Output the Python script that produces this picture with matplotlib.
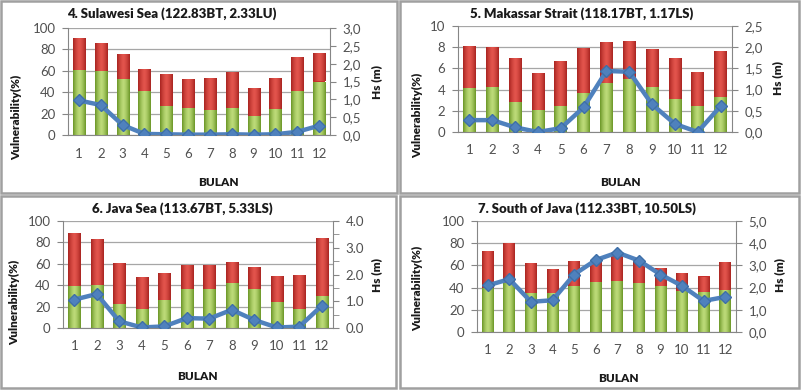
import matplotlib.pyplot as plt
import numpy as np
from matplotlib.patches import Rectangle
from matplotlib.colors import LinearSegmentedColormap
from matplotlib.ticker import FuncFormatter, MultipleLocator

plt.rcParams['font.family'] = ['Lato', 'DejaVu Sans']

W, H = 801, 390

months = [1, 2, 3, 4, 5, 6, 7, 8, 9, 10, 11, 12]

# 4. Sulawesi Sea
sulawesi_green = [61, 60, 52, 41, 27, 25, 23, 25, 18, 24, 41, 50]
sulawesi_red = [30, 26, 24, 21, 30, 27, 30, 34, 26, 29, 32, 27]
sulawesi_hs = [0.97, 0.84, 0.28, 0.03, 0.02, 0.01, 0.01, 0.02, 0.01, 0.02, 0.09, 0.26]

# 5. Makassar Strait
makassar_green = [4.15, 4.2, 2.85, 2.1, 2.45, 3.65, 4.6, 5.0, 4.2, 3.1, 2.45, 3.3]
makassar_red = [4.0, 3.85, 4.1, 3.5, 4.25, 4.3, 3.85, 3.55, 3.6, 3.9, 3.25, 4.3]
makassar_hs = [0.28, 0.28, 0.11, 0.0, 0.09, 0.58, 1.44, 1.42, 0.65, 0.19, 0.0, 0.61]

# 6. Java Sea
javasea_green = [39, 40, 22, 18, 26, 36, 36, 42, 36, 24, 18, 30]
javasea_red = [50, 43, 39, 30, 25, 23, 23, 20, 21, 25, 32, 54]
javasea_hs = [1.06, 1.27, 0.25, 0.02, 0.06, 0.37, 0.35, 0.68, 0.3, 0.02, 0.05, 0.83]

# 7. South of Java
southjava_green = [40, 44, 35, 35, 41, 45, 46, 44, 41, 37, 36, 38]
southjava_red = [33, 36, 27, 22, 23, 20, 25, 21, 17, 16, 14, 25]
southjava_hs = [2.1, 2.38, 1.36, 1.43, 2.59, 3.24, 3.58, 3.22, 2.59, 2.08, 1.4, 1.58]

titles = ['4. Sulawesi Sea (122.83BT, 2.33LU)', '5. Makassar Strait (118.17BT, 1.17LS)',
          '6. Java Sea (113.67BT, 5.33LS)', '7. South of Java (112.33BT, 10.50LS)']

fig = plt.figure(figsize=(W / 100, H / 100), dpi=100)


def px_axes(left, top, right, bottom):
    return fig.add_axes([left / W, 1 - bottom / H, (right - left) / W, (bottom - top) / H])


def px_text(x, y, s, **kw):
    fig.text(x / W, 1 - y / H, s, ha='center', va='center', **kw)


def shade(ax, patches, dark, light):
    # cylinder-ish shading like the excel bars
    grad = np.abs(np.linspace(-1, 1, 64))[None, :] ** 1.5
    cmap = LinearSegmentedColormap.from_list('c', [light, dark])
    for p in patches:
        x0, y0 = p.get_x(), p.get_y()
        w, h = p.get_width(), p.get_height()
        if h <= 0:
            continue
        im = ax.imshow(grad, cmap=cmap, aspect='auto', extent=(x0, x0 + w, y0, y0 + h),
                       zorder=2, interpolation='bilinear')
        im.set_clip_path(p)


def panel(box, green, red, hs, ylim, ystep, hlim, hstep, hminor, comma, title, frame, lab):
    ax = px_axes(*box)
    ax.set_xlim(0.5, 12.5)
    ax.set_ylim(0, ylim)
    gb = ax.bar(months, green, width=0.55, color='#93BE45', zorder=2)
    rb = ax.bar(months, red, bottom=green, width=0.55, color='#C8302C', zorder=2)
    shade(ax, gb, '#6A9626', '#BCDA78')
    shade(ax, rb, '#A82420', '#E2544C')
    ax.yaxis.set_major_locator(MultipleLocator(ystep))
    ax.grid(axis='y', color='#A6A6A6', linewidth=0.9, zorder=0)
    ax.set_axisbelow(True)
    ax.set_xticks(months)
    ax.tick_params(axis='x', length=0, labelsize=9.5, colors='#505050', pad=9)
    ax.tick_params(axis='y', length=4, labelsize=9.5, colors='#505050', pad=5)
    ax.tick_params(axis='y', color='#868686')
    for s in ['top', 'right']:
        ax.spines[s].set_visible(False)
    ax.spines['left'].set_color('#868686')
    ax.spines['bottom'].set_color('#868686')

    ax2 = ax.twinx()
    ax2.set_ylim(0, hlim)
    ax2.plot(months, hs, color='#4F81BD', linewidth=3.2, marker='D', markersize=6.5,
             markerfacecolor='#4F81BD', markeredgecolor='#3E6FA8', zorder=5)
    ax2.yaxis.set_major_locator(MultipleLocator(hstep))
    if hminor:
        ax2.yaxis.set_minor_locator(MultipleLocator(hminor))
        ax2.tick_params(axis='y', which='minor', length=4, color='#868686')
    if comma:
        ax2.yaxis.set_major_formatter(FuncFormatter(lambda v, p: ('%.1f' % v).replace('.', ',')))
    else:
        ax2.yaxis.set_major_formatter(FuncFormatter(lambda v, p: '%.1f' % v))
    ax2.tick_params(axis='y', length=4, labelsize=9.5, colors='#505050', color='#868686', pad=5)
    for s in ['top', 'left', 'bottom']:
        ax2.spines[s].set_visible(False)
    ax2.spines['right'].set_color('#868686')

    # panel frame
    fx0, fy0, fx1, fy1 = frame
    fig.patches.append(Rectangle((fx0 / W, 1 - fy1 / H), (fx1 - fx0) / W, (fy1 - fy0) / H,
                                 transform=fig.transFigure, fill=False, edgecolor='#A0A0A0',
                                 linewidth=1.8))
    tx, ty, vx, vy, hx, hy, bx, by = lab
    px_text(tx, ty, title, fontsize=9.5, fontweight='heavy', color='#1A1A1A')
    px_text(vx, vy, 'Vulnerability(%)', fontsize=8.5, fontweight='heavy', rotation=90, color='#1A1A1A')
    px_text(hx, hy, 'Hs (m)', fontsize=8.5, fontweight='heavy', rotation=90, color='#1A1A1A')
    px_text(bx, by, 'BULAN', fontsize=8.5, fontweight='heavy', color='#1A1A1A')


panel((68, 28, 330, 135), sulawesi_green, sulawesi_red, sulawesi_hs, 100, 20, 3.0, 0.5, None, True,
      titles[0], (1, 1, 397, 193), (172, 14, 17, 117, 377, 82, 218, 183))
panel((458, 26, 732, 132), makassar_green, makassar_red, makassar_hs, 10, 2, 2.5, 0.5, None, True,
      titles[1], (400, 1, 799, 193), (582, 14, 418, 115, 778, 78, 620, 183))
panel((63, 221, 333, 328), javasea_green, javasea_red, javasea_hs, 100, 20, 4.0, 1.0, 0.5, False,
      titles[2], (1, 196, 396, 388), (182, 209, 15, 302, 377, 275, 197, 377))
panel((477, 221, 736, 332), southjava_green, southjava_red, southjava_hs, 100, 20, 5.0, 1.0, None, True,
      titles[3], (400, 196, 799, 388), (587, 209, 418, 288, 780, 275, 618, 378))

fig.savefig('out.png', dpi=100)
